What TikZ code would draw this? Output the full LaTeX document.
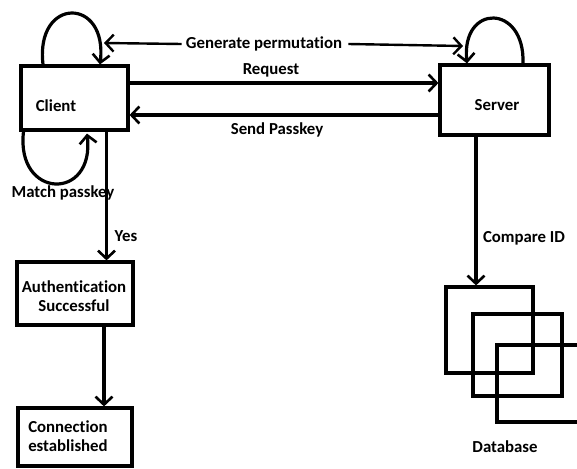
\documentclass[tikz,border=0pt]{standalone}
\usepackage{fontspec}
\setmainfont{Carlito}[Ligatures={NoCommon}]
\usetikzlibrary{arrows.meta,calc}

\tikzset{
  box/.style={draw, line width=3.2pt, inner sep=0pt},
  txt/.style={font=\bfseries\fontsize{16.8}{20.5}\selectfont, inner sep=0pt, align=center},
  wire/.style={line width=3.2pt},
  arr/.style={wire, -{Straight Barb[length=8pt,width=17pt,line width=2.6pt]}},
  thinarr/.style={line width=2.4pt, -{Straight Barb[length=8pt,width=17pt,line width=2.4pt]}},
}

\begin{document}
\begin{tikzpicture}[x=1pt,y=-1pt]
\useasboundingbox[fill=white] (0,0) rectangle (577,468);

% main boxes
\node[box, minimum width=107pt, minimum height=64pt] (client) at (74.5,98) {};
\node[txt] at (56,106) {Client};
\node[box, minimum width=109pt, minimum height=70pt] (server) at (494.5,100) {};
\node[txt] at (497,105) {Server};
\node[box, minimum width=116pt, minimum height=63pt] (auth) at (75,293.5) {};
\node[txt] at (74,296) {Authentication\\[-1pt]Successful};
\node[box, minimum width=114pt, minimum height=58pt] (conn) at (75,437) {};
\node[txt, align=left] at (68,436) {Connection\\[-1pt]established};

% database: three overlapping squares
\node[box, minimum width=87pt, minimum height=86pt] (db1) at (489.5,330) {};
\node[box, minimum width=89pt, minimum height=82pt] (db2) at (517.5,355) {};
\node[box, minimum width=90pt, minimum height=77pt] (db3) at (542,383.5) {};
\node[txt] (dblabel) at (505,447) {Database};

% anchor points for the straight connectors
\coordinate (reqA) at ($(client.east)+(0,-15)$);
\coordinate (reqB) at (reqA -| server.west);
\coordinate (keyA) at ($(client.east)+(0,17)$);
\coordinate (keyB) at (keyA -| server.west);
\coordinate (yesA) at ($(client.south)+(32,0)$);
\coordinate (yesB) at (yesA |- auth.north);
\coordinate (okA) at ($(auth.south)+(29,0)$);
\coordinate (okB) at (okA |- conn.north);
\coordinate (cmpA) at ($(server.south)+(-18.5,0)$);
\coordinate (cmpB) at (cmpA |- db1.north);

% client <-> server messages
\draw[arr] (reqA) -- (reqB);
\node[txt] at (271,70) {Request};
\draw[arr] (keyB) -- (keyA);
\node[txt] at (277,130) {Send Passkey};

% generate permutation: self loops with arrows pointing at them
\node[txt] (gen) at (264,44) {Generate permutation};
\coordinate (cl1) at ($(client.north)+(-31.5,0)$);
\coordinate (cl2) at ($(client.north)+(25.5,0)$);
\coordinate (sl1) at ($(server.north)+(28.5,0)$);
\coordinate (sl2) at ($(server.north)+(-27.5,0)$);
\draw[arr] (cl1) .. controls +(-8,-68) and +(8,-68) .. (cl2);
\draw[arr] (sl1) .. controls +(2,-60) and +(-6,-60) .. (sl2);
\coordinate (genL) at ($(gen.west)+(-4,0)$);
\coordinate (genR) at ($(gen.east)+(6,0)$);
\coordinate (genLtip) at (104,43);
\coordinate (genRtip) at (463,46);
\draw[thinarr] (genL) -- (genLtip);
\draw[thinarr] (genR) -- (genRtip);

% match passkey loop under the client
\coordinate (ml1) at ($(client.south)+(-51,0)$);
\coordinate (ml2) at ($(client.south)+(12.5,2)$);
\draw[arr] (ml1) .. controls +(-8,68) and +(8,68) .. (ml2);
\node[txt] at (63,193) {Match passkey};

% client flow downwards
\draw[arr] (yesA) -- (yesB);
\node[txt] at (126,236) {Yes};
\draw[arr] (okA) -- (okB);

% server lookup
\draw[arr] (cmpA) -- (cmpB);
\node[txt] at (524,238) {Compare ID};
\end{tikzpicture}
\end{document}
